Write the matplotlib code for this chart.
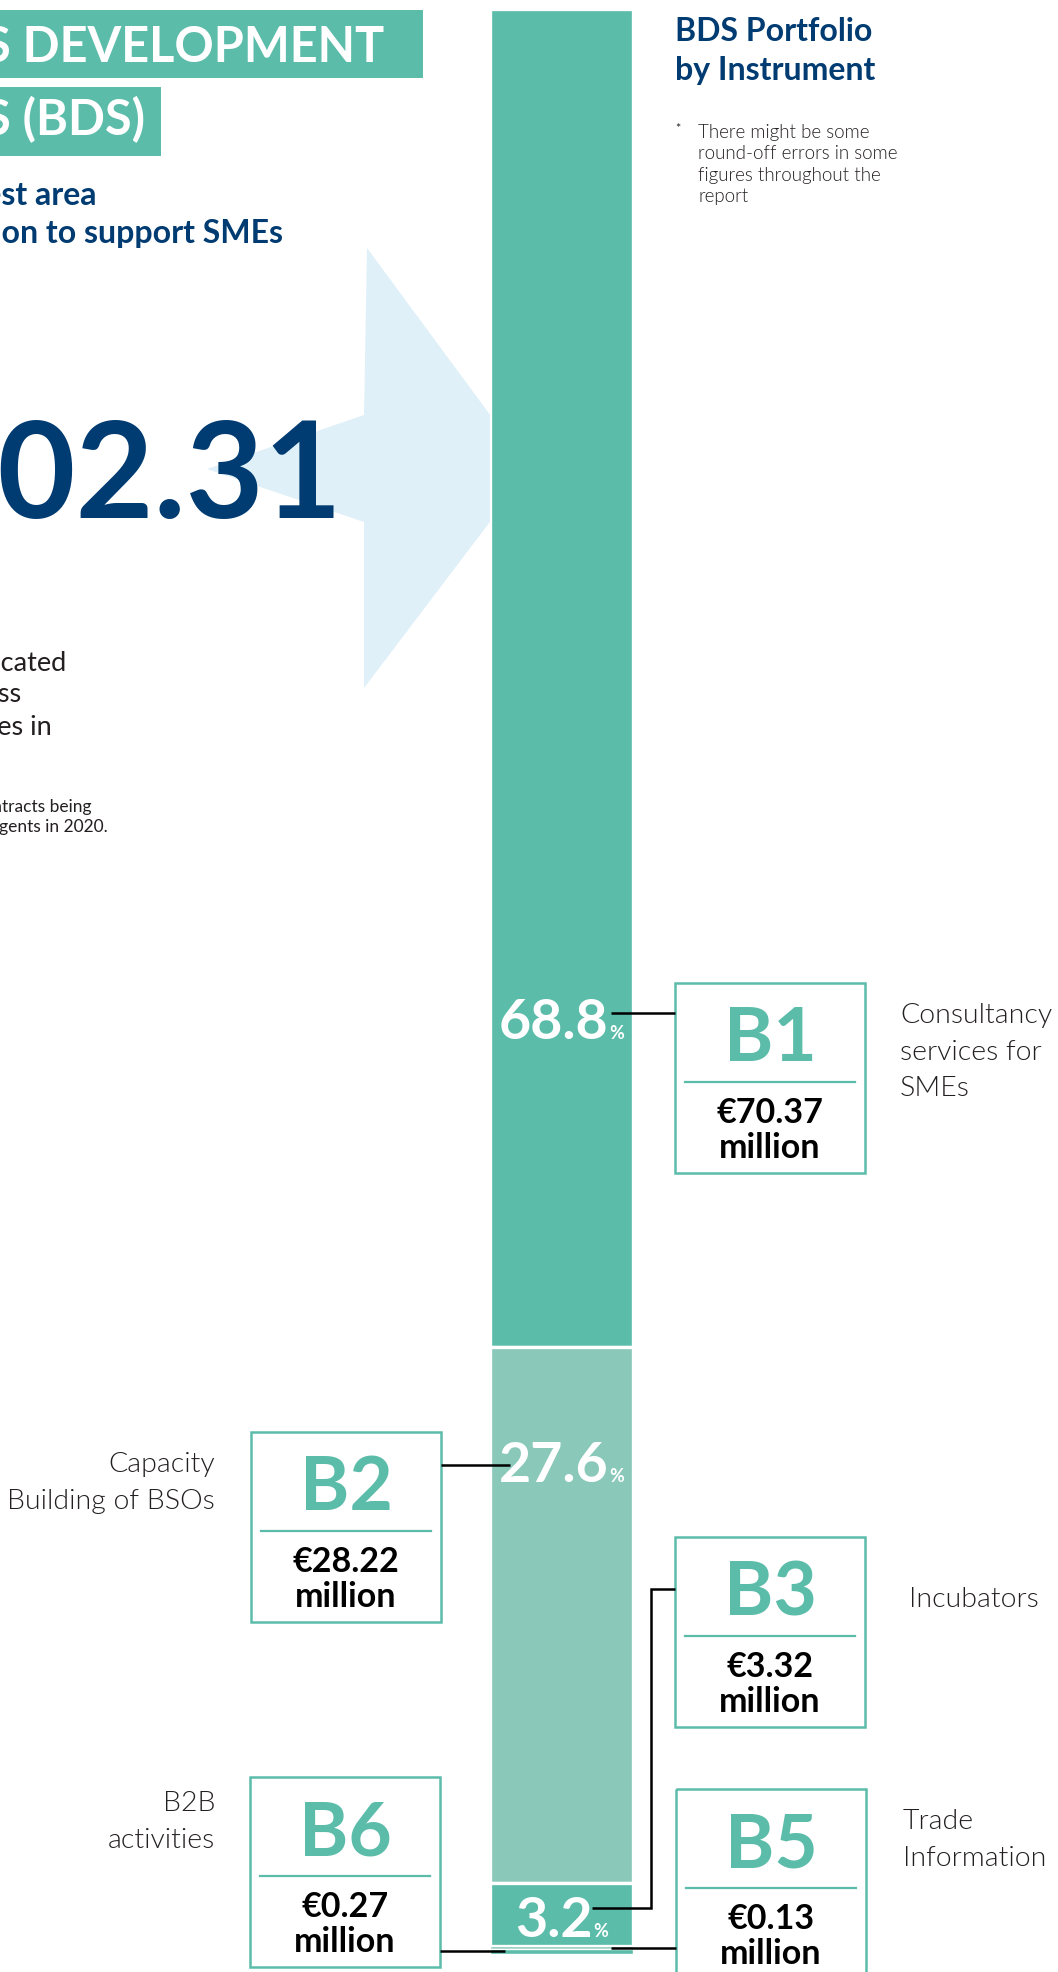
import numpy as np
import matplotlib.pyplot as plt
from matplotlib.patches import Polygon, Rectangle

W, H = 1058, 1972

# BDS portfolio by instrument, EUR million
instruments = ['B1', 'B2', 'B3', 'B5', 'B6']
amounts = [70.37, 28.22, 3.32, 0.13, 0.27]
names = [['Consultancy', 'services for', 'SMEs'],
         ['Capacity', 'Building of BSOs'],
         ['Incubators'],
         ['Trade', 'Information'],
         ['B2B', 'activities']]
labelled = ['B1', 'B2', 'B3']

TEAL = '#5bbcaa'
TEAL_LIGHT = '#8ac8ba'
NAVY = '#003b71'
INK = '#231f20'
seg_colors = [TEAL, TEAL_LIGHT, TEAL, TEAL_LIGHT, TEAL]

total = sum(amounts)
shares = [a / total * 100 for a in amounts]

plt.rcParams['font.family'] = ['Lato', 'DejaVu Sans']

fig = plt.figure(figsize=(W / 100, H / 100), dpi=100)

# page layer, pixel units with y pointing down
bg = fig.add_axes([0, 0, 1, 1], zorder=0)
bg.set_xlim(0, W)
bg.set_ylim(H, 0)
bg.axis('off')

# stacked bar on its own axes
bar_l, bar_r, bar_t, bar_b = 490, 633, 9, 1954
bx = fig.add_axes([bar_l / W, 1 - bar_b / H, (bar_r - bar_l) / W, (bar_b - bar_t) / H], zorder=1)
bx.set_xlim(-0.5, 0.5)
bx.set_ylim(total, 0)
bx.axis('off')
bottoms = np.concatenate([[0], np.cumsum(amounts)[:-1]])
bx.bar([0] * len(amounts), amounts, bottom=bottoms, width=1, color=seg_colors,
       edgecolor='white', linewidth=[2.4, 2.4, 2.4, 1.0, 1.0])

# annotation layer on top of the bar
ov = fig.add_axes([0, 0, 1, 1], zorder=2)
ov.set_xlim(0, W)
ov.set_ylim(H, 0)
ov.axis('off')
ov.patch.set_visible(False)


def bar_to_page(v):
    disp = bx.transData.transform((0, v))
    return ov.transData.inverted().transform(disp)[1]


# arrow pointing at the bar
arrow = Polygon([(367, 248), (530, 469), (364, 688), (364, 522), (207, 469), (364, 415)],
                closed=True, facecolor='#dff0f8', edgecolor='none')
bg.add_patch(arrow)

# section title
bg.add_patch(Rectangle((0, 10), 423, 68, facecolor=TEAL, edgecolor='none'))
bg.add_patch(Rectangle((0, 87), 161, 69, facecolor=TEAL, edgecolor='none'))
bg.text(384, 62, 'BUSINESS DEVELOPMENT', ha='right', va='baseline', color='white',
        fontsize=35, fontweight='bold')
bg.text(145, 135, 'SERVICES (BDS)', ha='right', va='baseline', color='white',
        fontsize=35, fontweight='bold')
bg.text(97, 205, 'BDS is the largest area', ha='right', va='baseline', color=NAVY,
        fontsize=23, fontweight='bold')
bg.text(283, 243, 'of intervention to support SMEs', ha='right', va='baseline', color=NAVY,
        fontsize=23, fontweight='bold')

bg.text(342, 518, f'€{total:.2f}', ha='right', va='baseline', color=NAVY,
        fontsize=97, fontweight='bold')

body = [('million allocated', 66, 671), ('to business', 21, 702), ('development services in', 52, 735)]
for s, x, y in body:
    bg.text(x, y, s, ha='right', va='baseline', color=INK, fontsize=19.5)
small = [('Amounts refer to contracts being', 92, 812), ('signed with implementing agents in 2020.', 108, 832)]
for s, x, y in small:
    bg.text(x, y, s, ha='right', va='baseline', color=INK, fontsize=12.5)

# right-hand heading and footnote
bg.text(675, 41, 'BDS Portfolio', va='baseline', color=NAVY, fontsize=23, fontweight='bold')
bg.text(675, 80, 'by Instrument', va='baseline', color=NAVY, fontsize=23, fontweight='bold')
bg.text(675, 133, '*', va='baseline', color=INK, fontsize=9)
note = ['There might be some', 'round-off errors in some', 'figures throughout the', 'report']
for i, s in enumerate(note):
    bg.text(698, 138 + i * 21.3, s, va='baseline', color=INK, fontsize=13.5, fontweight=300)

# share labels inside the bar
renderer = fig.canvas.get_renderer()
pct_base = {'B1': 1039, 'B2': 1482, 'B3': 1937}
bar_cx = (bar_l + bar_r) / 2
for code, share in zip(instruments, shares):
    if code not in labelled:
        continue
    y = pct_base[code]
    num = ov.text(0, y, f'{share:.1f}', va='baseline', color='white', fontsize=40, fontweight='bold')
    pct = ov.text(0, y, '%', va='baseline', color='white', fontsize=13, fontweight='bold')
    wn = num.get_window_extent(renderer).width
    wp = pct.get_window_extent(renderer).width
    x0 = bar_cx - (wn + wp + 1) / 2
    num.set_x(x0)
    pct.set_x(x0 + wn + 1)

# instrument boxes: (left, top) of each square
box_pos = {'B1': (675, 983), 'B2': (251, 1432), 'B3': (675, 1537), 'B5': (676, 1789), 'B6': (250, 1777)}
box_size = 190
for code, amt in zip(instruments, amounts):
    x0, y0 = box_pos[code]
    ov.add_patch(Rectangle((x0, y0), box_size, box_size, fill=False, edgecolor=TEAL, linewidth=1.8))
    cx = x0 + box_size / 2
    ov.text(cx, y0 + 78, code, ha='center', va='baseline', color=TEAL, fontsize=54, fontweight='bold')
    ov.plot([x0 + 10, x0 + box_size - 10], [y0 + 99, y0 + 99], color=TEAL, linewidth=1.6)
    ov.text(cx, y0 + 140, f'€{amt:.2f}', ha='center', va='baseline', color='black',
            fontsize=24.5, fontweight='bold')
    ov.text(cx, y0 + 175, 'million', ha='center', va='baseline', color='black',
            fontsize=24.5, fontweight='bold')

# instrument names beside the boxes
name_pos = {'B1': (900, 1023, 'left'), 'B2': (215, 1472, 'right'), 'B3': (909, 1607, 'left'),
            'B5': (903, 1829, 'left'), 'B6': (215, 1811, 'right')}
for code, lines in zip(instruments, names):
    x, y, ha = name_pos[code]
    for i, s in enumerate(lines):
        ov.text(x, y + i * 36.5, s, ha=ha, va='baseline', color=INK, fontsize=20.5, fontweight=300)

# leader lines from bar to boxes
y_b5 = bar_to_page(bottoms[3] + amounts[3] / 2)
y_b6 = bar_to_page(bottoms[4] + amounts[4] / 2)
leaders = [
    ([611, 675], [1013, 1013]),
    ([441, 510], [1465, 1465]),
    ([592, 651, 651, 675], [1908, 1908, 1589, 1589]),
    ([611, 676], [y_b5, y_b5]),
    ([440, 505], [y_b6, y_b6]),
]
for xs, ys in leaders:
    ov.plot(xs, ys, color='black', linewidth=1.8, solid_joinstyle='miter', solid_capstyle='butt')

fig.savefig('out.png', dpi=100)
